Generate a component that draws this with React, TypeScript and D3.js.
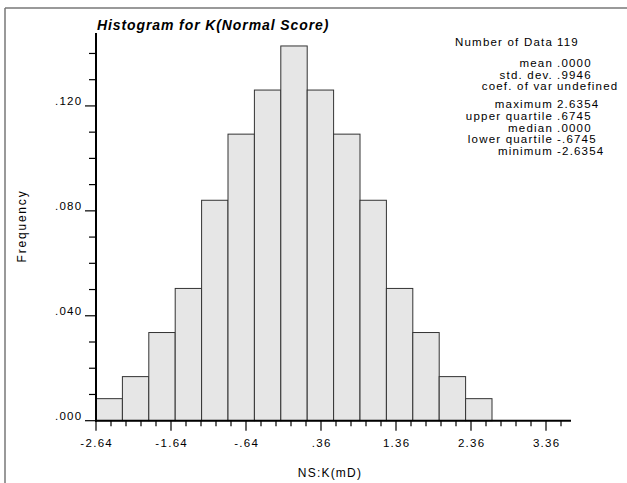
import React from "react";
import * as d3 from "d3";

const binStart = -2.64;
const binWidth = 0.352;
const counts = [1, 2, 4, 6, 10, 13, 15, 17, 15, 13, 10, 6, 4, 2, 1];
const totalCount = 119;
const xTickValues = [-2.64, -1.64, -0.64, 0.36, 1.36, 2.36, 3.36];
const xTickLabels = ["-2.64", "-1.64", "-.64", ".36", "1.36", "2.36", "3.36"];
const yTickValues = [0, 0.04, 0.08, 0.12];
const yTickLabels = [".000", ".040", ".080", ".120"];
const statLabels = ["Number of Data", "mean", "std. dev.", "coef. of var", "maximum", "upper quartile", "median", "lower quartile", "minimum"];
const statValues = ["119", ".0000", ".9946", "undefined", "2.6354", ".6745", ".0000", "-.6745", "-2.6354"];
const statRows = [42, 63, 74.6, 86.3, 104.3, 116, 127.6, 139.3, 151];

export default function App() {
  const W = 627, H = 483;
  const x = d3.scaleLinear().domain([-2.64, 3.6933]).range([96, 571]);
  const y = d3.scaleLinear().domain([0, 0.1478]).range([420.7, 33]);
  const font = "'Liberation Sans', Arial, Helvetica, sans-serif";
  const bars = counts.map((c, i) => ({
    x0: binStart + i * binWidth,
    x1: binStart + (i + 1) * binWidth,
    f: c / totalCount,
  }));
  const minorX = d3.range(0, 32).map((i) => -2.64 + i * 0.2).filter((v) => v <= 3.6933);
  const minorY = d3.range(0, 15).map((i) => i * 0.01);
  return (
    <svg width={W} height={H} style={{ position: "absolute", left: 0, top: 0 }}>
      <rect x={0} y={0} width={W} height={H} fill="#fff" />
      <line x1={5} y1={8} x2={W} y2={8} stroke="#777" strokeWidth={1.5} />
      <line x1={5} y1={8} x2={5} y2={H} stroke="#777" strokeWidth={1.5} />
      <text x={97} y={30} fontFamily={font} fontSize={14} fontWeight="bold" fontStyle="italic" letterSpacing={0.9}>
        Histogram for K(Normal Score)
      </text>
      {bars.map((b, i) => (
        <rect key={i} x={x(b.x0)} y={y(b.f)} width={x(b.x1) - x(b.x0)} height={y(0) - y(b.f)}
          fill="#e6e6e6" stroke="#333" strokeWidth={1} />
      ))}
      {/* Y axis */}
      <line x1={96} y1={y.range()[1]} x2={96} y2={y(0) + 1} stroke="#000" strokeWidth={2} />
      {minorY.map((v, i) => {
        const major = yTickValues.some((t) => Math.abs(t - v) < 1e-9);
        return <line key={i} x1={major ? 85 : 89} x2={96} y1={y(v)} y2={y(v)} stroke="#000" strokeWidth={1.2} />;
      })}
      {yTickValues.map((v, i) => (
        <text key={i} x={82.5} y={y(v) - 0.5} textAnchor="end" fontFamily={font} fontSize={11.5} letterSpacing={1.3}>
          {yTickLabels[i]}
        </text>
      ))}
      {/* X axis */}
      <line x1={95} y1={y(0)} x2={571} y2={y(0)} stroke="#000" strokeWidth={2} />
      {minorX.map((v, i) => {
        const major = xTickValues.some((t) => Math.abs(t - v) < 1e-6);
        return <line key={i} x1={x(v)} x2={x(v)} y1={y(0)} y2={y(0) + (major ? 10 : 5.5)} stroke="#000" strokeWidth={1.2} />;
      })}
      {xTickValues.map((v, i) => (
        <text key={i} x={x(v) + 0.7} y={446.5} textAnchor="middle" fontFamily={font} fontSize={11.5} letterSpacing={1.3}>
          {xTickLabels[i]}
        </text>
      ))}
      <text x={330} y={477} textAnchor="middle" fontFamily={font} fontSize={12} letterSpacing={1.2}>NS:K(mD)</text>
      <text transform="translate(25.5,226) rotate(-90)" textAnchor="middle" fontFamily={font} fontSize={12} letterSpacing={1.8}>Frequency</text>
      {statLabels.map((s, i) => (
        <g key={i}>
          <text x={553} y={statRows[i] + 4} textAnchor="end" fontFamily={font} fontSize={11.5} letterSpacing={1.2}>{s}</text>
          <text x={557} y={statRows[i] + 4} fontFamily={font} fontSize={11.5} letterSpacing={1.2}>{statValues[i]}</text>
        </g>
      ))}
    </svg>
  );
}
